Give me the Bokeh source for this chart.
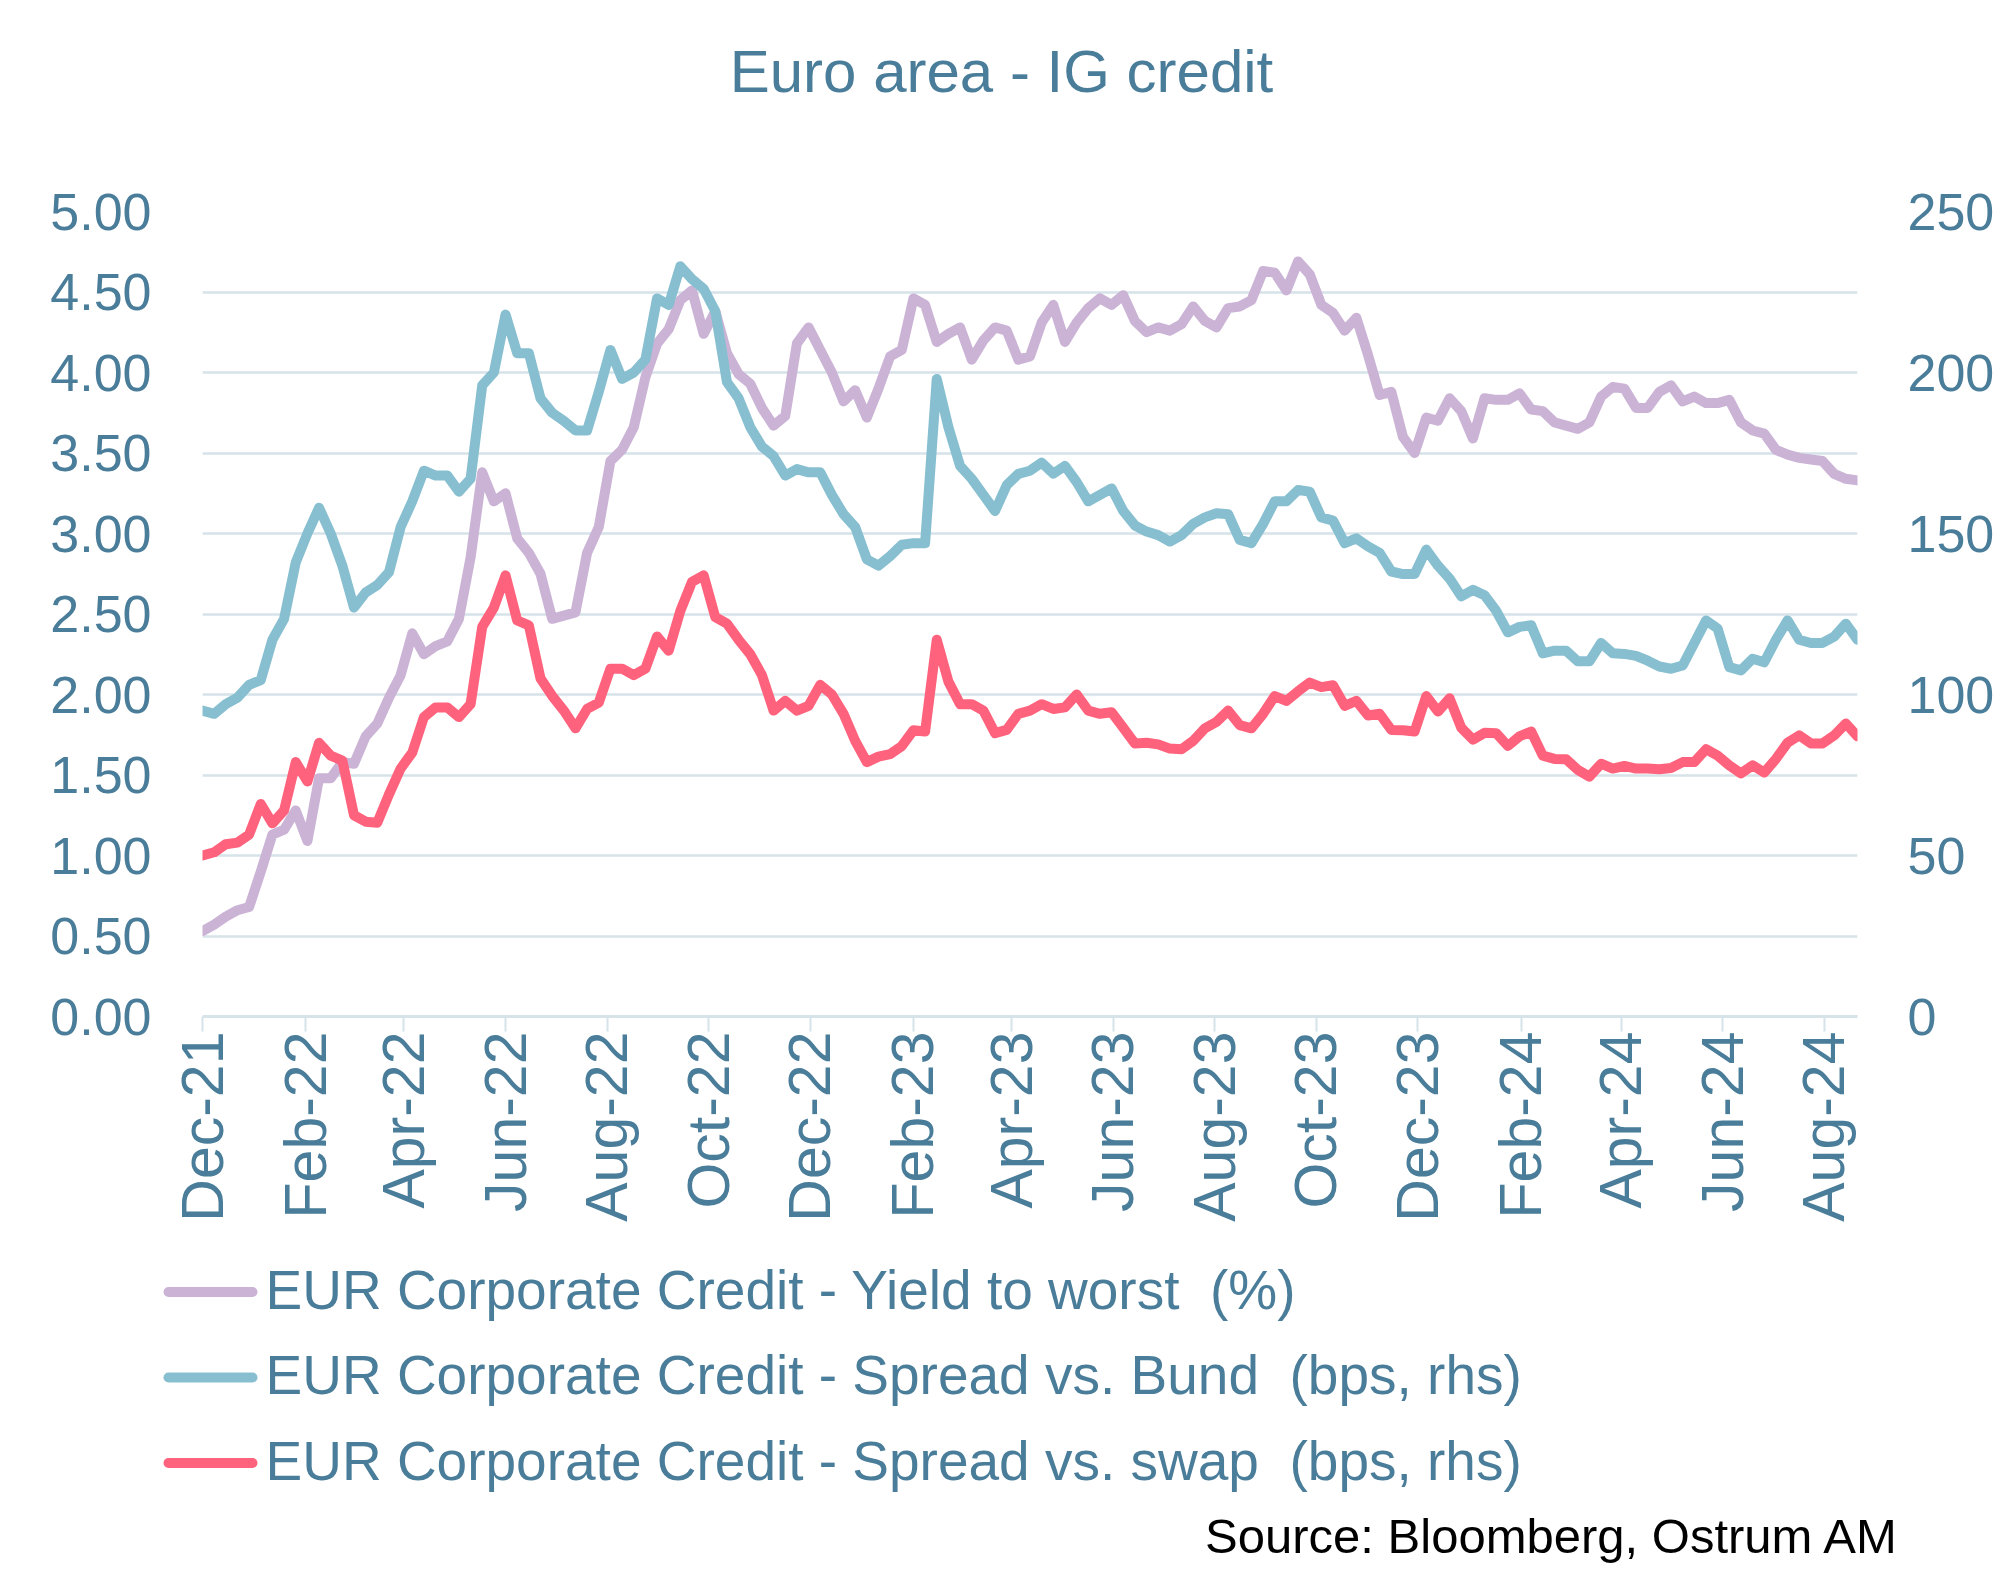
import math
import pandas as pd
from bokeh.plotting import figure
from bokeh.layouts import column
from bokeh.models import (Range1d, LinearAxis, FixedTicker, NumeralTickFormatter,
                          DatetimeTickFormatter, Label, ColumnDataSource)
from bokeh.embed import file_html
from bokeh.resources import INLINE

# ---------------- data (weekly readings) ----------------
start_date = "2021-12-01"
n_weeks = 143

yield_to_worst = [
    0.53, 0.57, 0.62, 0.66, 0.68, 0.90, 1.13, 1.16, 1.28, 1.09,
    1.48, 1.48, 1.58, 1.57, 1.74, 1.82, 1.98, 2.12, 2.38, 2.25,
    2.30, 2.33, 2.47, 2.85, 3.38, 3.20, 3.25, 2.97, 2.88, 2.75,
    2.47, 2.49, 2.51, 2.88, 3.04, 3.45, 3.52, 3.66, 3.97, 4.18,
    4.27, 4.45, 4.51, 4.24, 4.38, 4.12, 3.99, 3.93, 3.78, 3.67,
    3.73, 4.18, 4.28, 4.14, 4.00, 3.82, 3.89, 3.72, 3.90, 4.10,
    4.14, 4.46, 4.42, 4.19, 4.24, 4.28, 4.08, 4.20, 4.28, 4.26,
    4.08, 4.10, 4.31, 4.42, 4.19, 4.31, 4.40, 4.46, 4.42, 4.48,
    4.32, 4.25, 4.28, 4.26, 4.30, 4.41, 4.32, 4.28, 4.40, 4.41,
    4.45, 4.63, 4.62, 4.51, 4.69, 4.61, 4.42, 4.37, 4.26, 4.34,
    4.11, 3.86, 3.88, 3.60, 3.50, 3.72, 3.70, 3.84, 3.76, 3.59,
    3.84, 3.83, 3.83, 3.87, 3.77, 3.76, 3.69, 3.67, 3.65, 3.69,
    3.85, 3.91, 3.90, 3.78, 3.78, 3.88, 3.92, 3.82, 3.85, 3.81,
    3.81, 3.83, 3.69, 3.64, 3.62, 3.52, 3.49, 3.47, 3.46, 3.45,
    3.37, 3.34, 3.33,
]

spread_vs_bund = [
    95, 94, 97, 99, 103, 104.5, 117, 123.5, 141, 150,
    158, 150, 140, 127, 131.7, 134, 138, 152, 160, 169.5,
    168, 168, 163, 167, 196, 200, 218, 206, 206, 192,
    187.5, 185, 182, 182, 194, 207, 198, 200, 204, 223,
    221, 233, 229, 226, 219, 197, 192, 183, 177, 174,
    168, 170, 169, 169, 162, 156, 152, 142, 140, 143,
    146.5, 147, 147, 198, 183, 171, 167, 162, 157, 165,
    168.5, 169.5, 172, 168.6, 171, 166, 160, 162, 164, 157,
    152.5, 150.6, 149.5, 147.5, 149.5, 153, 155, 156.3, 156, 148,
    147, 153, 160, 160, 163.5, 163, 155, 154, 147, 148.5,
    146, 144, 138.2, 137.4, 137.4, 145, 140, 136, 130.5, 132.5,
    130.8, 126, 119.3, 121, 121.5, 112.8, 113.6, 113.6, 110.3, 110.3,
    116, 112.8, 112.6, 112, 110.5, 108.7, 108, 109, 116, 123,
    120.5, 108.5, 107.5, 111.1, 110, 117, 123, 117, 116, 116,
    118, 122, 117,
]

spread_vs_swap = [
    50, 51, 53.5, 54, 56.5, 66, 60, 64, 79, 73,
    85, 81, 79.5, 62.5, 60.5, 60.2, 69, 77, 82, 93,
    96, 96, 93, 97, 121, 127, 137, 123, 121.5, 105,
    99.6, 95, 89.5, 95.5, 97.5, 108, 108, 106, 108, 118,
    113.6, 126, 135, 137, 124, 122, 117, 112.5, 106, 95,
    98, 95, 96.5, 103, 100, 94, 85.6, 79, 80.7, 81.5,
    84, 88.9, 88.5, 117, 104, 97, 97, 95, 88, 89,
    94, 95, 97, 95.5, 96, 100, 95, 94, 94.5, 89.7,
    84.8, 85, 84.5, 83.2, 83, 85.6, 89.5, 91.5, 95, 90.5,
    89.5, 94, 99.5, 98, 101, 103.7, 102.3, 102.9, 96.5, 98,
    93.5, 94, 89, 88.9, 88.5, 99.5, 94.7, 98.8, 89.7, 86,
    88.1, 88, 84, 87, 88.5, 81, 80, 79.9, 76.6, 74.5,
    78.5, 77, 77.8, 77, 77, 76.8, 77.2, 79, 79, 83,
    81, 78, 75.5, 78, 75.8, 80, 85, 87.3, 84.8, 84.8,
    87.3, 91, 87,
]

x_tick_labels = ["Dec-21", "Feb-22", "Apr-22", "Jun-22", "Aug-22", "Oct-22",
                 "Dec-22", "Feb-23", "Apr-23", "Jun-23", "Aug-23", "Oct-23",
                 "Dec-23", "Feb-24", "Apr-24", "Jun-24", "Aug-24"]
left_ticks = [0, 0.5, 1.0, 1.5, 2.0, 2.5, 3.0, 3.5, 4.0, 4.5, 5.0]
right_ticks = [0, 50, 100, 150, 200, 250]

series_labels = ["EUR Corporate Credit - Yield to worst \u00a0(%)",
                 "EUR Corporate Credit - Spread vs. Bund \u00a0(bps, rhs)",
                 "EUR Corporate Credit - Spread vs. swap \u00a0(bps, rhs)"]
title_text = "Euro area - IG credit"
source_text = "Source: Bloomberg, Ostrum AM"

# ---------------- styling / layout ----------------
TXT = "#4a7d99"
GRID = "#d6e4e9"
COLORS = ["#cbb3d6", "#87bfd0", "#ff627c"]
FONT = "Liberation Sans"
LW = 10
BASE_SHIFT = 22          # Bokeh alphabetic-baseline offset (px)

W = 1997                 # total width
TOP_H = 150              # title strip
MAIN_H = 1095            # chart
BOT_H = 323              # legend + source strip
ML, MR, MT, MB = 202, 139, 61, 229   # frame: x 202..1858, y 211..1016 on the page

dates = pd.date_range(start_date, periods=n_weeks, freq="7D")
src = ColumnDataSource(dict(date=dates, ytw=yield_to_worst,
                            bund=spread_vs_bund, swap=spread_vs_swap))


def no_align(f):
    try:
        f.frame_align = False
    except Exception:
        pass


def blank_fig(h, y_top):
    f = figure(width=W, height=h, x_range=Range1d(0, W), y_range=Range1d(y_top + h, y_top),
               x_axis_type=None, y_axis_type=None,
               min_border_left=0, min_border_right=0, min_border_top=0, min_border_bottom=0,
               toolbar_location=None, output_backend="svg", title=None)
    f.outline_line_color = None
    f.background_fill_color = "white"
    f.border_fill_color = "white"
    no_align(f)
    return f


# ---- title strip (page y 0..150) ----
top = blank_fig(TOP_H, 0)
top.add_layout(Label(x=1001, y=94 - BASE_SHIFT - 1, text=title_text, text_align="center",
                     text_baseline="alphabetic", text_font_size="60px",
                     text_color=TXT, text_font=FONT))

# ---- main chart ----
p = figure(width=W, height=MAIN_H, x_axis_type="datetime",
           x_range=Range1d(dates[0].to_pydatetime(), dates[-1].to_pydatetime()),
           y_range=Range1d(0, 5),
           output_backend="svg", toolbar_location=None, title=None,
           min_border_left=ML, min_border_right=MR,
           min_border_top=MT, min_border_bottom=MB)
no_align(p)
p.outline_line_color = None
p.background_fill_color = "white"
p.border_fill_color = "white"
p.extra_y_ranges = {"right": Range1d(0, 250)}

yax = p.yaxis[0]
yax.ticker = FixedTicker(ticks=left_ticks)
yax.formatter = NumeralTickFormatter(format="0.00")
yax.axis_line_color = None
yax.major_tick_line_color = None
yax.minor_tick_line_color = None
yax.major_tick_out = 0
yax.major_label_standoff = 51
yax.major_label_text_font_size = "52px"
yax.major_label_text_color = TXT
yax.major_label_text_font = FONT

rax = LinearAxis(y_range_name="right", ticker=FixedTicker(ticks=right_ticks),
                 formatter=NumeralTickFormatter(format="0"))
rax.axis_line_color = None
rax.major_tick_line_color = None
rax.minor_tick_line_color = None
rax.major_tick_out = 0
rax.major_label_standoff = 50
rax.major_label_text_font_size = "52px"
rax.major_label_text_color = TXT
rax.major_label_text_font = FONT
p.add_layout(rax, "right")

tick_ms = [pd.to_datetime(t, format="%b-%y").value / 1e6 for t in x_tick_labels]
xax = p.xaxis[0]
xax.ticker = FixedTicker(ticks=tick_ms)
fmt = "%b-%y"
xax.formatter = DatetimeTickFormatter(days=fmt, months=fmt, years=fmt, hours=fmt,
                                      minutes=fmt, seconds=fmt, milliseconds=fmt,
                                      microseconds=fmt, context=None)
xax.major_label_orientation = math.pi / 2
xax.axis_line_color = GRID
xax.axis_line_width = 3
xax.major_tick_line_color = GRID
xax.major_tick_line_width = 2
xax.major_tick_in = 0
xax.major_tick_out = 15
xax.minor_tick_line_color = None
xax.major_label_standoff = 0
xax.major_label_text_font_size = "59px"
xax.major_label_text_color = TXT
xax.major_label_text_font = FONT

p.xgrid.visible = False
p.ygrid.grid_line_color = GRID
p.ygrid.grid_line_width = 2.5

p.line(x="date", y="ytw", source=src, line_color=COLORS[0], line_width=LW,
       line_join="round", line_cap="round")
p.line(x="date", y="bund", source=src, line_color=COLORS[1], line_width=LW,
       line_join="round", line_cap="round", y_range_name="right")
p.line(x="date", y="swap", source=src, line_color=COLORS[2], line_width=LW,
       line_join="round", line_cap="round", y_range_name="right")

# ---- legend + source strip (page y 1245..1568) ----
bot = blank_fig(BOT_H, TOP_H + MAIN_H)
row_mid = [1291.5, 1377, 1462.5]
bot.segment(x0=[168] * 3, x1=[252] * 3, y0=row_mid, y1=row_mid,
            line_color=COLORS, line_width=10, line_cap="round")
for lab, ym in zip(series_labels, row_mid):
    bot.add_layout(Label(x=265, y=ym + 19.5 - BASE_SHIFT, text=lab, text_align="left",
                         text_baseline="alphabetic", text_font_size="55px",
                         text_color=TXT, text_font=FONT))
bot.add_layout(Label(x=1899, y=1557 - BASE_SHIFT, text=source_text, text_align="right",
                     text_baseline="alphabetic", text_font_size="49px",
                     text_color="black", text_font=FONT))

layout = column(top, p, bot, spacing=0)
open("out.html", "w").write(file_html(layout, INLINE))
